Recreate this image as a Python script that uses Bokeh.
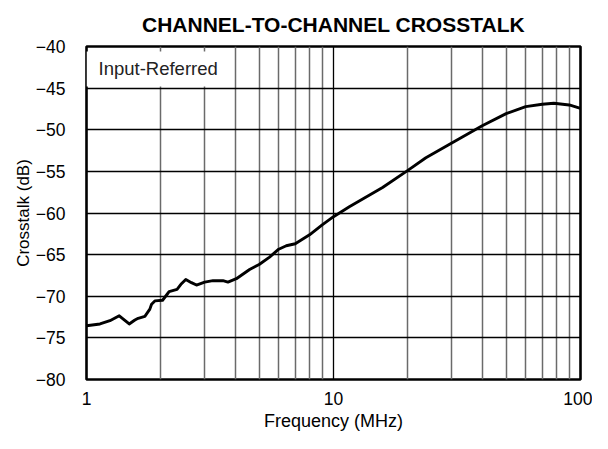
from bokeh.plotting import figure
from bokeh.models import FixedTicker, Label
from bokeh.embed import file_html
from bokeh.resources import INLINE

# ---- data ----
freq_mhz = [1.0, 1.134, 1.244, 1.357, 1.489, 1.570, 1.619, 1.723, 1.805, 1.834,
            1.891, 2.032, 2.121, 2.16, 2.326, 2.424, 2.523, 2.66, 2.787, 3.01,
            3.252, 3.568, 3.738, 4.043, 4.574, 5.0, 5.51, 6.0, 6.44, 7.0,
            8.0, 9.0, 10.0, 11.59, 15.8, 20.0, 23.66, 30.0, 40.0, 50.0,
            60.0, 70.0, 78.0, 90.0, 100.0]
crosstalk_db = [-73.55, -73.33, -72.94, -72.35, -73.33, -72.86, -72.65, -72.42, -71.55, -70.95,
                -70.56, -70.48, -69.76, -69.44, -69.17, -68.49, -67.98, -68.37, -68.65, -68.3,
                -68.13, -68.13, -68.3, -67.89, -66.79, -66.19, -65.3, -64.35, -63.93, -63.69,
                -62.62, -61.43, -60.44, -59.25, -56.94, -54.88, -53.37, -51.63, -49.52, -48.06,
                -47.23, -46.94, -46.82, -47.02, -47.42]

x_ticks = [1, 10, 100]
x_tick_labels = ["1", "10", "100"]
y_ticks = [-80, -75, -70, -65, -60, -55, -50, -45, -40]
y_tick_labels = ["\u221280", "\u221275", "\u221270", "\u221265", "\u221260",
                 "\u221255", "\u221250", "\u221245", "\u221240"]

title_text = "CHANNEL-TO-CHANNEL CROSSTALK"
x_label = "Frequency (MHz)"
y_label = "Crosstalk (dB)"
note_text = "Input-Referred"

FONT = "Liberation Sans"

p = figure(width=592, height=433, x_axis_type="log", x_range=(1, 100), y_range=(-80, -40),
           output_backend="svg", toolbar_location=None, title=title_text,
           min_border_left=86, min_border_right=12, min_border_top=45, min_border_bottom=52)

p.title.text_font = FONT
p.title.text_font_size = "21px"
p.title.text_font_style = "bold"
p.title.align = "center"
p.title.text_color = "black"
p.title.standoff = 21

p.outline_line_color = "black"
p.outline_line_width = 2.6
p.outline_line_alpha = 1.0

# axes
p.xaxis.ticker = FixedTicker(ticks=x_ticks, minor_ticks=[m * d for d in (1, 10) for m in range(2, 10)])
p.xaxis.major_label_overrides = {t: l for t, l in zip(x_ticks, x_tick_labels)}
p.yaxis.ticker = FixedTicker(ticks=y_ticks)
p.yaxis.major_label_overrides = {t: l for t, l in zip(y_ticks, y_tick_labels)}

for ax in (p.xaxis[0], p.yaxis[0]):
    ax.axis_line_color = None
    ax.major_tick_line_color = None
    ax.minor_tick_line_color = None
    ax.major_label_text_font = FONT
    ax.major_label_text_font_size = "17.5px"
    ax.major_label_text_color = "black"
    ax.axis_label_text_font = FONT
    ax.axis_label_text_font_size = "17px"
    ax.axis_label_text_font_style = "normal"
    ax.axis_label_text_color = "black"

p.xaxis.axis_label = x_label
p.xaxis.axis_label_text_font_size = "18px"
p.yaxis.axis_label = y_label
p.xaxis.major_label_standoff = 6
p.xaxis.axis_label_standoff = 3
p.yaxis.major_label_standoff = 15
p.yaxis.axis_label_standoff = 0

# grid
p.xgrid.grid_line_color = "black"
p.xgrid.grid_line_width = 1.3
p.xgrid.minor_grid_line_color = "#6a6a6a"
p.xgrid.minor_grid_line_width = 1.5
p.ygrid.grid_line_color = "black"
p.ygrid.grid_line_width = 1.3

# curve
p.line(freq_mhz, crosstalk_db, line_color="black", line_width=2.9, line_join="round", line_cap="round")

# note label with white box (box anchored at the left plot edge)
note = Label(x=1.0, y=-42.7, text=note_text, text_font=FONT, text_font_size="18.5px",
             text_color="#222222", text_baseline="middle", text_align="left",
             background_fill_color="white", background_fill_alpha=1.0,
             padding=dict(left=12, right=3, top=7, bottom=7))
p.add_layout(note)

open("out.html", "w").write(file_html(p, INLINE))
